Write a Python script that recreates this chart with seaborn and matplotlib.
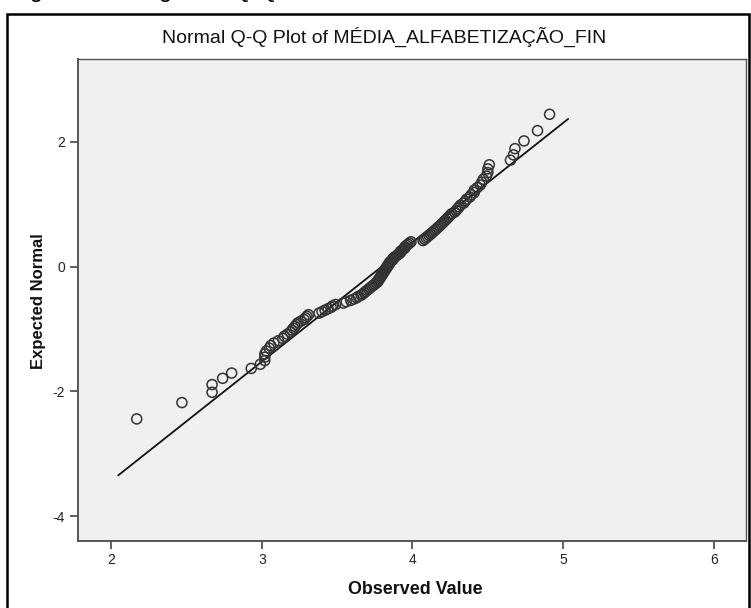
import numpy as np
import matplotlib
matplotlib.use("Agg")
import matplotlib.pyplot as plt
import seaborn as sns
from matplotlib.patches import Rectangle
from statistics import NormalDist

observed = [2.17, 2.47, 2.67, 2.67, 2.74, 2.80, 2.93, 2.99, 3.02, 3.02,
            3.02, 3.03, 3.05, 3.06, 3.08, 3.11, 3.14, 3.15, 3.17, 3.19,
            3.20, 3.21, 3.22, 3.23, 3.24, 3.26, 3.28, 3.29, 3.30, 3.31,
            3.38, 3.40, 3.42, 3.44, 3.46, 3.47, 3.49, 3.54, 3.56, 3.59,
            3.61, 3.63, 3.64, 3.66, 3.67, 3.68, 3.69, 3.70, 3.71, 3.72,
            3.73, 3.74, 3.75, 3.76, 3.77, 3.77, 3.78, 3.78, 3.79, 3.79,
            3.80, 3.80, 3.81, 3.81, 3.82, 3.82, 3.83, 3.83, 3.84, 3.84,
            3.85, 3.85, 3.86, 3.87, 3.87, 3.88, 3.89, 3.90, 3.91, 3.92,
            3.92, 3.93, 3.94, 3.95, 3.95, 3.96, 3.97, 3.98, 3.99, 4.07,
            4.08, 4.09, 4.10, 4.11, 4.12, 4.13, 4.14, 4.15, 4.16, 4.17,
            4.18, 4.19, 4.20, 4.21, 4.22, 4.23, 4.24, 4.25, 4.26, 4.28,
            4.29, 4.30, 4.31, 4.32, 4.34, 4.35, 4.36, 4.38, 4.39, 4.41,
            4.41, 4.43, 4.45, 4.46, 4.47, 4.49, 4.50, 4.50, 4.51, 4.65,
            4.67, 4.68, 4.74, 4.83, 4.91]

x_ticks = [2, 3, 4, 5, 6]
y_ticks = [-4, -2, 0, 2]

title = "Normal Q-Q Plot of MÉDIA_ALFABETIZAÇÃO_FIN"
x_label = "Observed Value"
y_label = "Expected Normal"
caption = "Figura 9 – Diagrama Q-Q"

# normal esperada (van der Waerden: i/(n+1))
obs = np.array(observed)
n = len(obs)
expected = np.array([NormalDist().inv_cdf(i / (n + 1)) for i in range(1, n + 1)])

# linha de referência
mu = obs.mean()
sd = obs.std(ddof=1)
span = obs.max() - obs.min()
line_x = np.array([obs.min() - 0.045 * span, obs.max() + 0.045 * span])
line_y = (line_x - mu) / sd

sns.set_style("white")
plt.rcParams['font.family'] = ['Liberation Sans', 'DejaVu Sans']
plt.rcParams['axes.unicode_minus'] = False

W, H = 751, 608
fig = plt.figure(figsize=(W / 100, H / 100), dpi=100)
fig.patch.set_facecolor("white")

ax_l, ax_r, ax_t, ax_b = 77.5, 745.5, 58.7, 540.7
ax = fig.add_axes([ax_l / W, 1 - ax_b / H, (ax_r - ax_l) / W, (ax_b - ax_t) / H])
ax.set_facecolor("#f0f0f0")

ax.plot(line_x, line_y, color="#111111", lw=1.3, zorder=2)
sns.scatterplot(x=obs, y=expected, ax=ax, s=52, facecolor="none",
                edgecolor="#333333", linewidth=1.1, marker="o", zorder=3)

ax.set_xlim(1.777, 6.21)
ax.set_ylim(-4.39, 3.33)
ax.set_xticks(x_ticks)
ax.set_yticks(y_ticks)
ax.tick_params(axis="both", direction="out", length=6, width=1.2,
               color="#444444", labelsize=10, labelcolor="#222222", pad=3,
               left=True, bottom=True)
for s in ax.spines.values():
    s.set_color("#555555")
    s.set_linewidth(1.0)
ax.spines["left"].set_linewidth(1.4)
ax.spines["bottom"].set_linewidth(1.4)
ax.set_xlabel("")
ax.set_ylabel("")

fig.text(384.5 / W, 1 - 37 / H, title, ha="center", va="center", fontsize=14, color="#111111")
fig.text(415 / W, 1 - 589.5 / H, x_label, ha="center", va="center", fontsize=12.9, fontweight="bold", color="#111111")
fig.text(38.5 / W, 1 - 301 / H, y_label, ha="center", va="center", rotation=90, fontsize=12, fontweight="bold", color="#111111")

# texto do documento cortado no topo (só as descendentes aparecem)
fig.text(10 / W, 1 + 3.5 / H, caption, ha="left", va="baseline", fontsize=17, color="black")

# moldura externa
fig.patches.append(Rectangle((6.7 / W, -0.05), (749 - 6.7) / W, 1.05 - 14.4 / H,
                             transform=fig.transFigure, fill=False,
                             edgecolor="black", lw=1.8))

fig.savefig("out.png", dpi=100)
